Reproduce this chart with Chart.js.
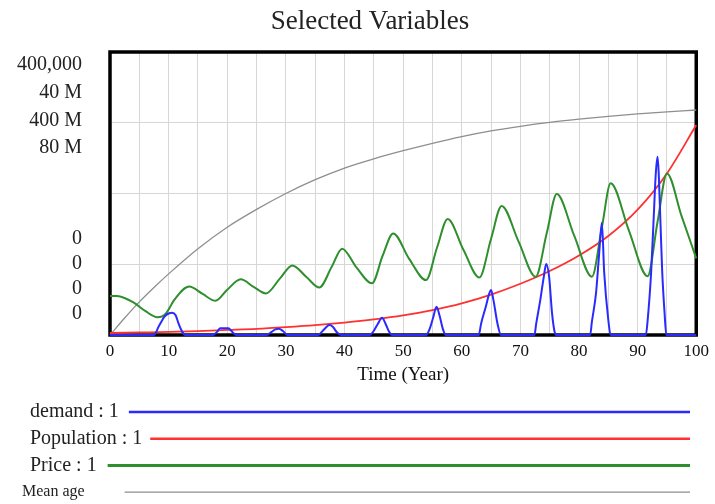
<!DOCTYPE html>
<html><head><meta charset="utf-8">
<script src="https://cdn.jsdelivr.net/npm/chart.js@4/dist/chart.umd.min.js"></script>
<style>html,body{margin:0;padding:0;background:#fff}</style>
</head><body>
<canvas id="c" width="715" height="504"></canvas>
<script>
// ---------- DATA ----------
const chartTitle = 'Selected Variables';
const xAxisTitle = 'Time (Year)';
const xMin = 0, xMax = 100;

const demandT = [0,
  7.5, 8.3, 9.3, 10.0, 10.6, 11.2, 11.7, 12.3, 12.9,
  17.6, 18.3, 18.8, 20.2, 20.8, 21.5,
  26.7, 27.5, 28.2, 28.8, 29.5, 30.3,
  35.5, 36.3, 37.0, 37.4, 38.0, 38.7, 39.4,
  44.3, 45.0, 45.7, 46.4, 47.0, 47.6, 48.1,
  53.9, 54.5, 55.1, 55.7, 56.2, 56.8, 57.3,
  62.9, 63.3, 64.1, 64.7, 65.0, 65.4, 66.1, 66.7,
  72.4, 72.7, 73.4, 74.0, 74.4, 74.9, 75.4, 75.8, 76.1,
  81.9, 82.2, 82.9, 83.4, 83.9, 84.3, 85.0, 85.4,
  91.4, 91.7, 92.3, 92.7, 93.1, 93.4, 93.6, 93.9, 94.2, 94.6, 94.9, 100];
const demandV = [0,
  0, 12000, 26000, 30400, 31600, 28000, 16000, 4800, 0,
  0, 4800, 9600, 9600, 4800, 0,
  0, 4000, 8000, 8800, 5600, 0,
  0, 6000, 12000, 14000, 11600, 4000, 0,
  0, 6000, 16000, 24400, 16000, 4800, 0,
  0, 8000, 24000, 40000, 28000, 8000, 0,
  0, 16000, 40000, 58800, 63600, 49600, 16000, 0,
  0, 16000, 49600, 82400, 100400, 82400, 30800, 6000, 0,
  0, 18800, 58800, 110800, 158800, 88000, 21200, 0,
  0, 20000, 88000, 158000, 228400, 252000, 228400, 158000, 88000, 30800, 0, 0];

const populationT = [0, 5, 10, 15, 20, 25, 30, 35, 40, 45, 50, 55, 60, 65, 70, 75, 80, 85, 90, 95, 100];
const populationV = [280000, 360000, 440000, 560000, 720000, 880000, 1120000, 1400000, 1760000, 2200000,
  2760000, 3520000, 4480000, 5720000, 7240000, 9040000, 11240000, 14000000, 17720000, 22840000, 29680000];

const priceT = [0, 1.2, 4, 6, 8.1, 9.5, 11, 13.5, 15.8, 18, 20, 22.3, 24.5, 26.6, 29, 31.1, 33.5, 35.7,
  37.8, 39.6, 42, 44.7, 46.5, 48.3, 51, 53.9, 55.8, 57.6, 60.3, 63, 65, 66.8, 69.7, 72.6,
  74.5, 76.2, 79.2, 82.2, 83.9, 85.4, 88.5, 91.7, 93.4, 95, 97.5, 100];
const priceV = [55.2e6, 55e6, 46e6, 34e6, 25e6, 30e6, 50e6, 68.4e6, 58e6, 48.4e6, 64e6, 78.8e6, 68e6, 58.8e6,
  80e6, 98.4e6, 82e6, 67.2e6, 96e6, 122e6, 96e6, 73.2e6, 112e6, 143.6e6, 108e6, 77.6e6, 124e6, 164e6,
  120e6, 81.2e6, 136e6, 182.4e6, 132e6, 82.4e6, 144e6, 199.2e6, 140e6, 82.4e6, 152e6, 214.4e6,
  148e6, 83.2e6, 160e6, 228.4e6, 168e6, 108.4e6];

const meanAgeT = [0, 2.5, 5, 7.5, 10, 15, 20, 25, 30, 35, 40, 45, 50, 55, 60, 65, 70, 75, 80, 85, 90, 95, 100];
const meanAgeV = [0, 4.8e6, 9.36e6, 13.44e6, 17.28e6, 24.4e6, 30.48e6, 35.5e6, 40.0e6, 43.9e6, 47.2e6,
  49.8e6, 52.1e6, 54.2e6, 56.1e6, 57.7e6, 59.0e6, 60.1e6, 61.0e6, 61.8e6, 62.5e6, 63.1e6, 63.6e6];

// per-series scale maxima (shown at top of the stacked y labels)
const scaleMax = [400000, 40e6, 400e6, 80e6];
const yTopLabels = ['400,000', '40 M', '400 M', '80 M'];
const yBottomLabels = ['0', '0', '0', '0'];
const legendLabels = ['demand : 1', 'Population : 1', 'Price : 1', 'Mean age'];

// ---------- STYLE ----------
const serif = "'Liberation Serif', 'Times New Roman', serif";
const colors = ['#2a2aff', '#ff3030', '#2f8f2f', '#8e8e8e'];
const widths = [2, 1.8, 2, 1.3];
const legendWidths = [2.5, 2.5, 3, 1.4];
const legendFont = [20, 20, 20, 16];
const legendGap = [10, 8, 11, 40];

function pts(t, v) { return t.map((x, i) => ({ x: x, y: v[i] })); }

const series = [
  { label: legendLabels[0], data: pts(demandT, demandV), yAxisID: 'yD' },
  { label: legendLabels[1], data: pts(populationT, populationV), yAxisID: 'yP' },
  { label: legendLabels[2], data: pts(priceT, priceV), yAxisID: 'yR' },
  { label: legendLabels[3], data: pts(meanAgeT, meanAgeV), yAxisID: 'yM' }
];
const drawOrder = [0, 2, 1, 3];
const datasets = series.map((s, i) => Object.assign(s, {
  borderColor: colors[i], borderWidth: widths[i], pointRadius: 0,
  fill: false, cubicInterpolationMode: 'monotone', tension: 0.4,
  clip: false, order: drawOrder[i]
}));

const decor = {
  id: 'decor',
  beforeDatasetsDraw(chart) {
    const { ctx, chartArea: a } = chart;
    ctx.save();
    ctx.strokeStyle = '#000';
    ctx.lineWidth = 3.5;
    ctx.strokeRect(a.left, a.top, a.right - a.left, a.bottom - a.top);
    ctx.restore();
  },
  afterDraw(chart) {
    const { ctx, chartArea: a } = chart;
    ctx.save();
    // title
    ctx.fillStyle = '#222';
    ctx.textAlign = 'center';
    ctx.textBaseline = 'middle';
    ctx.font = '27px ' + serif;
    ctx.fillText(chartTitle, 370, 22);
    // stacked y labels
    ctx.textAlign = 'right';
    ctx.font = '20px ' + serif;
    yTopLabels.forEach((t, i) => ctx.fillText(t, 82, a.top + 13 + i * 27.7));
    yBottomLabels.forEach((t, i) => ctx.fillText(t, 82, a.bottom - 96 + i * 25));
    // legend
    ctx.textAlign = 'left';
    legendLabels.forEach((t, i) => {
      const y = 412 + i * 26.7;
      ctx.font = legendFont[i] + 'px ' + serif;
      ctx.fillStyle = '#222';
      const x0 = i === 3 ? 22 : 30;
      ctx.fillText(t, x0, y);
      const w = ctx.measureText(t).width;
      ctx.beginPath();
      ctx.strokeStyle = colors[i];
      ctx.lineWidth = legendWidths[i];
      ctx.moveTo(x0 + w + legendGap[i], y);
      ctx.lineTo(690, y);
      ctx.stroke();
    });
    ctx.restore();
  }
};

const hiddenY = (max) => ({ type: 'linear', display: false, min: 0, max: max });

new Chart(document.getElementById('c'), {
  type: 'line',
  data: { datasets: datasets },
  options: {
    responsive: false, animation: false, devicePixelRatio: 1,
    layout: { padding: { left: 110, right: 17, top: 52, bottom: 118 } },
    plugins: {
      legend: { display: false },
      tooltip: { enabled: false },
      title: { display: false }
    },
    scales: {
      x: {
        type: 'linear', min: xMin, max: xMax,
        grid: { color: '#d6d6d6', lineWidth: 1, drawTicks: false },
        border: { display: false },
        ticks: { stepSize: 5, autoSkip: false, maxRotation: 0, padding: 6, color: '#111',
          font: { family: serif, size: 17 },
          callback: (v) => (v % 10 === 0 ? String(v) : '') },
        title: { display: true, text: xAxisTitle, color: '#111', padding: 0,
          font: { family: serif, size: 19 } },
        afterFit: (s) => { s.height = 51; }
      },
      yD: {
        type: 'linear', position: 'left', min: 0, max: scaleMax[0],
        grid: { color: '#d6d6d6', lineWidth: 1, drawTicks: false },
        border: { display: false },
        ticks: { display: false, stepSize: scaleMax[0] / 4 },
        afterFit: (s) => { s.width = 0; }
      },
      yP: hiddenY(scaleMax[1]),
      yR: hiddenY(scaleMax[2]),
      yM: hiddenY(scaleMax[3])
    }
  },
  plugins: [decor]
});
</script>
</body></html>
